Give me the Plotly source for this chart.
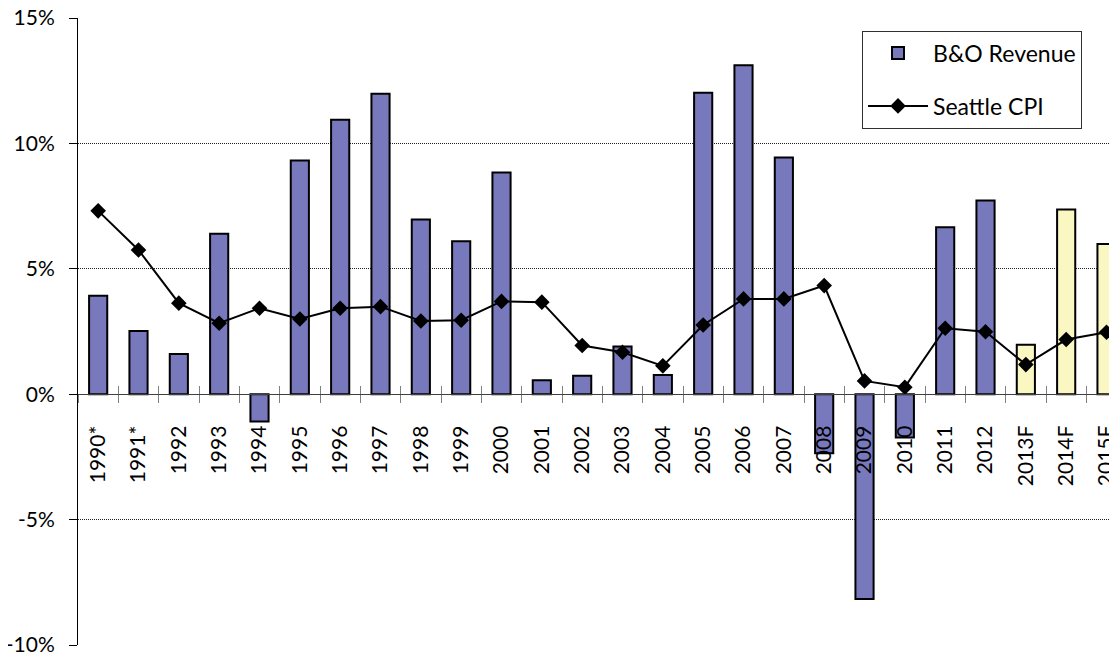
import plotly.graph_objects as go

years = ["1990*", "1991*", "1992", "1993", "1994", "1995", "1996", "1997", "1998",
         "1999", "2000", "2001", "2002", "2003", "2004", "2005", "2006", "2007",
         "2008", "2009", "2010", "2011", "2012", "2013F", "2014F", "2015F"]
bo_revenue = [3.93, 2.52, 1.60, 6.40, -1.09, 9.32, 10.94, 11.98, 6.97,
              6.10, 8.84, 0.56, 0.74, 1.90, 0.77, 12.02, 13.12, 9.44,
              -2.35, -8.17, -1.73, 6.66, 7.72, 1.97, 7.36, 5.99]
seattle_cpi = [7.31, 5.75, 3.63, 2.83, 3.43, 3.00, 3.43, 3.49, 2.92,
               2.95, 3.70, 3.67, 1.94, 1.67, 1.13, 2.76, 3.80, 3.80,
               4.33, 0.53, 0.28, 2.63, 2.49, 1.18, 2.18, 2.47]
y_ticks = [-10, -5, 0, 5, 10, 15]

FONT = "Lato"
blue = "#7878BC"
yellow = "#FAF7C3"
bar_colors = [yellow if y.endswith("F") else blue for y in years]

fig = go.Figure()
fig.add_trace(go.Bar(
    x=years, y=bo_revenue, name="B&O Revenue", width=0.45,
    marker=dict(color=bar_colors, line=dict(color="black", width=2)),
    legendgroup="a",
))
fig.add_trace(go.Scatter(
    x=years, y=seattle_cpi, name="Seattle CPI", mode="lines+markers",
    line=dict(color="black", width=2),
    marker=dict(symbol="diamond", size=12, color="black"),
    legendgroup="b",
))
# invisible helper for the inner half of the category ticks
fig.add_trace(go.Scatter(x=years, y=[None] * len(years), xaxis="x2",
                         showlegend=False, hoverinfo="skip"))

# the page body has an 8px margin, so the margins are 8px smaller here
fig.update_layout(
    width=1117, height=654,
    margin=dict(l=70, r=8, t=10, b=17, autoexpand=False),
    paper_bgcolor="white", plot_bgcolor="white",
    font=dict(family=FONT, size=20, color="black"),
    showlegend=True,
    legend=dict(
        x=0.7546, y=0.98, xanchor="left", yanchor="top",
        bordercolor="#303030", borderwidth=1, bgcolor="white",
        font=dict(family=FONT, size=23), tracegroupgap=20,
        itemwidth=60,
    ),
    xaxis=dict(
        type="category", range=[-0.5, 25.26], automargin=False,
        anchor="free", position=0.4,
        showline=True, linecolor="#404040", linewidth=1,
        ticks="outside", tickson="boundaries", ticklen=8, tickcolor="#808080",
        tickangle=-90, showgrid=False, zeroline=False,
        ticklabelstandoff=22, ticklabeloverflow="allow",
        tickfont=dict(family=FONT, size=21),
    ),
    xaxis2=dict(
        type="category", range=[-0.5, 25.26], overlaying="x", automargin=False,
        anchor="free", position=0.4, side="bottom",
        ticks="inside", tickson="boundaries", ticklen=8, tickcolor="#808080",
        showticklabels=False, showgrid=False, zeroline=False, showline=False,
    ),
    yaxis=dict(
        range=[-10, 15], tickvals=y_ticks, automargin=False,
        ticktext=[f"{v}%" for v in y_ticks],
        showline=True, linecolor="black", linewidth=1,
        ticks="outside", ticklen=8, tickcolor="black",
        ticklabelstandoff=10, ticklabeloverflow="allow",
        showgrid=True, gridcolor="#202020", griddash="1px,1px", gridwidth=1,
        zeroline=False,
        tickfont=dict(family=FONT, size=21),
    ),
)

fig.write_html("out.html")
